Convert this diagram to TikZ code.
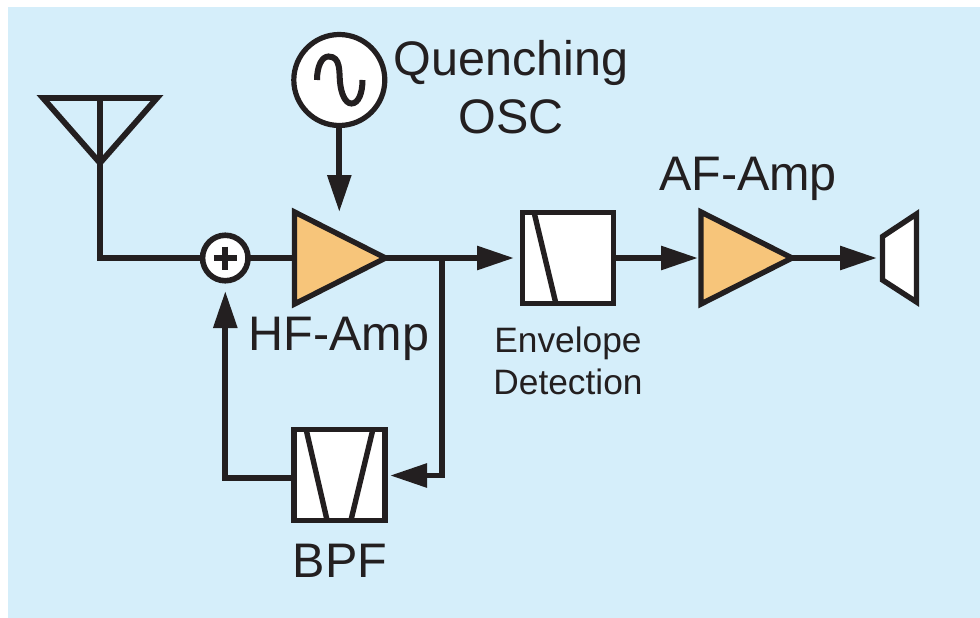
\documentclass[tikz,border=0pt]{standalone}
\usepackage{fontspec}
\setmainfont{Liberation Sans}
\usetikzlibrary{arrows.meta,shapes.geometric,calc}
\definecolor{ink}{HTML}{231F20}
\definecolor{bgblue}{HTML}{D5EEFA}
\definecolor{ampfill}{HTML}{F7C57A}
\tikzset{
  wire/.style={draw=ink,line width=5.8pt,line join=miter},
  arrowwire/.style={wire,-{Triangle[length=37pt,width=23pt,color=ink]}},
  blockbox/.style={draw=ink,fill=white,line width=5.4pt,rectangle,minimum width=91pt,minimum height=91pt,inner sep=0pt,outer sep=0pt},
  amp/.style={draw=ink,fill=ampfill,line width=5.4pt,isosceles triangle,isosceles triangle stretches,minimum width=92pt,minimum height=91pt,inner sep=0pt,outer sep=0pt,anchor=lower side},
  roundel/.style={draw=ink,fill=white,circle,inner sep=0pt,outer sep=0pt},
  slash/.style={draw=ink,line width=5.4pt},
  bigtext/.style={text=ink,font=\fontsize{48.5}{48.5}\selectfont,inner sep=0pt,anchor=base},
  smalltext/.style={text=ink,font=\fontsize{35.3}{35.3}\selectfont,inner sep=0pt,anchor=base},
}
\begin{document}
\begin{tikzpicture}[x=1pt,y=-1pt]
\useasboundingbox (0,0) rectangle (980,618);
\fill[bgblue] (8,7) rectangle (980,618);
% coordinates
\coordinate (antTop) at (100,98);
\coordinate (antL) at (43,98);
\coordinate (antR) at (157,98);
\coordinate (antApex) at (100,163);
\coordinate (antCorner) at (100,258);
\coordinate (fbTee) at (442,258);
\coordinate (fbCorner) at (442,475.5);
\coordinate (bpfIn) at (390,475.5);
\coordinate (fbLow) at (225.3,478);
\coordinate (sumIn) at (225.3,291);
\coordinate (hfTop) at (339.3,212);
\coordinate (detIn) at (514,258);
\coordinate (afIn) at (698,258);
\coordinate (spkIn) at (877,258);
\coordinate (bpfOut) at (294,478);
% blocks
\node[roundel,line width=5.6pt,minimum size=45.5pt] (sum) at (225.3,258) {};
\node[roundel,line width=5.2pt,minimum size=91pt] (osc) at (339.3,80) {};
\node[amp] (hf) at (294.5,258) {};
\node[amp] (af) at (701,258) {};
\node[blockbox] (det) at (568,258) {};
\node[blockbox] (bpf) at (339.5,475) {};
% antenna
\draw[draw=ink,line width=5.8pt,line join=miter] (antL) -- (antR) -- (antApex) -- cycle;
\draw[wire] (antTop) -- (antCorner) -- (sum.west);
% connectors
\draw[wire] (sum.east) -- (hf.lower side);
\draw[arrowwire] (hf.apex) -- (detIn);
\draw[arrowwire] (fbTee) -- (fbCorner) -- (bpfIn);
\draw[arrowwire] (bpfOut) -- (fbLow) -- (sumIn);
\draw[arrowwire] (osc.south) -- (hfTop);
\draw[arrowwire] (det.east) -- (afIn);
\draw[arrowwire] (af.apex) -- (spkIn);
% plus
\draw[ink,line width=6.2pt] ($(sum)+(-11.5,0)$) -- ($(sum)+(11.5,0)$);
\draw[ink,line width=6.2pt] ($(sum)+(0,-11.5)$) -- ($(sum)+(0,11.5)$);
% sine
\draw[ink,line width=6pt] (317,80) .. controls (317,66) and (322,56.5) .. (328.5,56.5) .. controls (341,56.5) and (339,72) .. (340,82) .. controls (341,93) and (345,103.5) .. (351.5,103.5) .. controls (358.5,103.5) and (362.5,93) .. (362.5,80);
% filter slopes
\draw[slash] (306,429) -- (327,520);
\draw[slash] (373,429) -- (351,520);
\draw[slash] (534,212) -- (556,304);
% speaker
\draw[draw=ink,fill=white,line width=5.4pt,line join=miter] (882.5,236.5) -- (916.5,214) -- (916.5,302) -- (882.5,280) -- cycle;
% labels
\node[bigtext] (q) at (511,76) {Quenching};
\node[bigtext] (o) at (511,133) {OSC};
\node[bigtext] (afl) at (748,190) {AF-Amp};
\node[bigtext] (hfl) at (339,350) {HF-Amp};
\node[smalltext] (e1) at (568,352) {Envelope};
\node[smalltext] (e2) at (568,394) {Detection};
\node[bigtext] (bl) at (340,577) {BPF};
\end{tikzpicture}
\end{document}
